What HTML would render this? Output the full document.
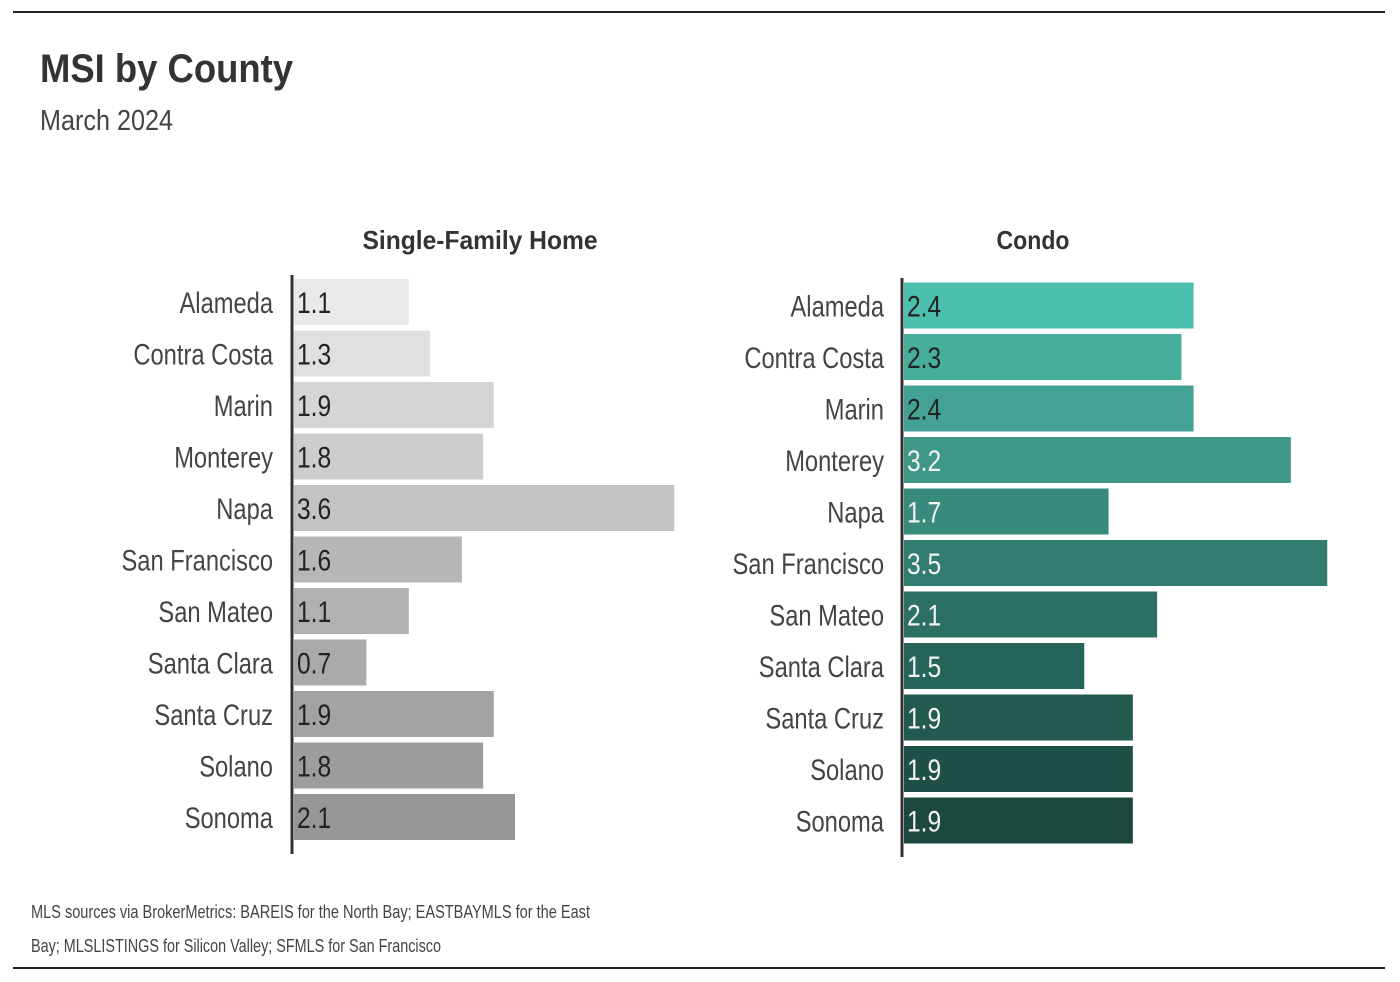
<!DOCTYPE html>
<html><head><meta charset="utf-8"><style>
html,body{margin:0;padding:0;background:#fff;}
svg{display:block;font-family:"Liberation Sans Narrow","Liberation Sans",sans-serif;}
</style></head><body>
<svg id="chart" width="1400" height="982" viewBox="0 0 1400 982">
<line x1="13" y1="12" x2="1385" y2="12" stroke="#222" stroke-width="2"/>
<line x1="13" y1="968" x2="1385" y2="968" stroke="#222" stroke-width="2"/>
<text x="40" y="82" font-size="40" font-weight="bold" fill="#333" textLength="253" lengthAdjust="spacingAndGlyphs">MSI by County</text>
<text x="40" y="130" font-size="29" fill="#444" textLength="133" lengthAdjust="spacingAndGlyphs">March 2024</text>
<text x="480" y="249" font-size="26" font-weight="bold" fill="#333" text-anchor="middle" textLength="235" lengthAdjust="spacingAndGlyphs">Single-Family Home</text>
<text x="1033" y="249" font-size="26" font-weight="bold" fill="#333" text-anchor="middle" textLength="73" lengthAdjust="spacingAndGlyphs">Condo</text>
<text x="31" y="918" font-size="18" fill="#444" textLength="559" lengthAdjust="spacingAndGlyphs">MLS sources via BrokerMetrics: BAREIS for the North Bay; EASTBAYMLS for the East</text>
<text x="31" y="952" font-size="18" fill="#444" textLength="410" lengthAdjust="spacingAndGlyphs">Bay; MLSLISTINGS for Silicon Valley; SFMLS for San Francisco</text>
<g id="sfh"></g>
<g id="condo"></g>
</svg>
<script>
const counties = ["Alameda","Contra Costa","Marin","Monterey","Napa","San Francisco","San Mateo","Santa Clara","Santa Cruz","Solano","Sonoma"];
const sfhValues = [1.1,1.3,1.9,1.8,3.6,1.6,1.1,0.7,1.9,1.8,2.1];
const condoValues = [2.4,2.3,2.4,3.2,1.7,3.5,2.1,1.5,1.9,1.9,1.9];
const sfhColors = ["#e9e9e9","#dfe0df","#d5d5d5","#cdcdcd","#c3c3c3","#b7b7b7","#b1b1b1","#aaaaaa","#a3a3a3","#9d9d9d","#979797"];
const condoColors = ["#4dbfad","#47ae9c","#43a293","#3e9787","#388a7c","#327c6f","#2c7063","#27655a","#225a50","#1e5047","#1c483f"];
const NS="http://www.w3.org/2000/svg";
function squeeze(t,f){
  const w=t.getComputedTextLength();
  t.setAttribute("textLength",(w*f).toFixed(1));
  t.setAttribute("lengthAdjust","spacingAndGlyphs");
}
function panel(gid, values, colors, cfg, prefix){
  const g=document.getElementById(gid);
  const x=v=>cfg.x0+v*cfg.scale;
  const y=i=>cfg.yc0+i*cfg.step;
  values.forEach((v,i)=>{
    const r=document.createElementNS(NS,"rect");
    r.setAttribute("x",cfg.x0+2);r.setAttribute("y",y(i)-23);
    r.setAttribute("width",x(v)-cfg.x0-2);r.setAttribute("height",46);
    r.setAttribute("fill",colors[i]);
    
    
    g.appendChild(r);
    const t=document.createElementNS(NS,"text");
    t.setAttribute("x",cfg.x0+5);t.setAttribute("y",y(i)+11);
    t.setAttribute("font-size","30");
    t.setAttribute("fill",(prefix==="condo"&&i>2)?"#f2f2f2":"#222");
    t.textContent=v.toFixed(1);
    
    
    g.appendChild(t);
    squeeze(t,0.82);
    const l=document.createElementNS(NS,"text");
    l.setAttribute("x",cfg.labelX);l.setAttribute("y",y(i)+11);
    l.setAttribute("font-size","30");l.setAttribute("fill","#444");
    l.setAttribute("text-anchor","end");
    l.textContent=counties[i];
    
    
    g.appendChild(l);
    squeeze(l,0.79);
  });
  const a=document.createElementNS(NS,"line");
  a.setAttribute("x1",cfg.x0);a.setAttribute("x2",cfg.x0);
  a.setAttribute("y1",cfg.ya1);a.setAttribute("y2",cfg.ya2);
  a.setAttribute("stroke","#333");a.setAttribute("stroke-width","3");
  
  
  g.appendChild(a);
}
panel("sfh",sfhValues,sfhColors,{x0:292,scale:106.2,yc0:302,step:51.5,labelX:273,ya1:275,ya2:854},"sfh");
panel("condo",condoValues,condoColors,{x0:902,scale:121.5,yc0:305.5,step:51.5,labelX:884,ya1:278,ya2:857},"condo");
</script>
</body></html>
